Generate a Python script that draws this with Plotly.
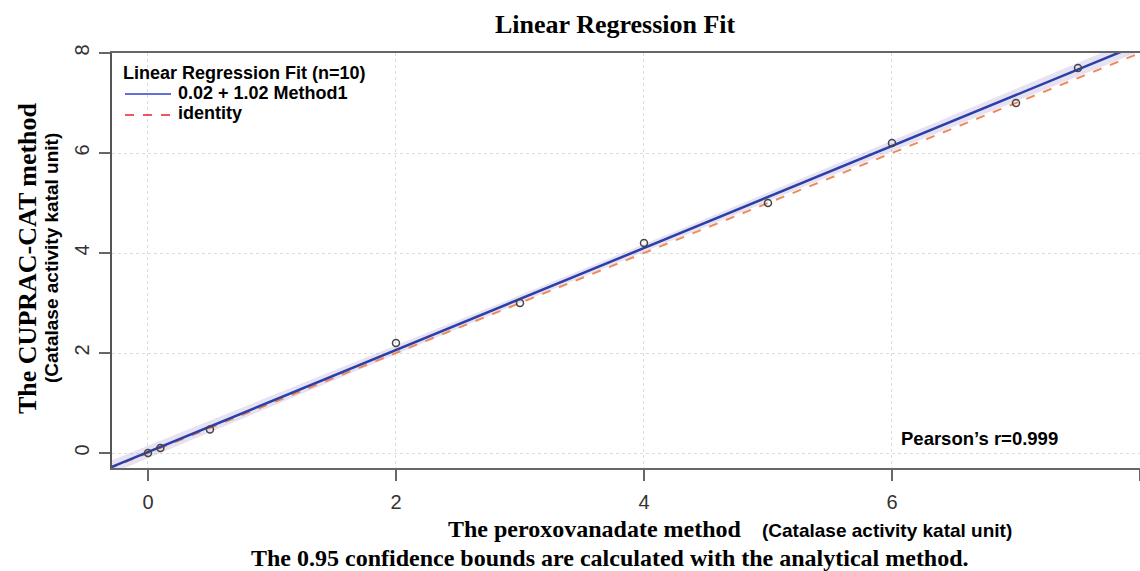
import numpy as np
import plotly.graph_objects as go

# ---- data ----
method1 = [0, 0.1, 0.5, 2, 3, 4, 5, 6, 7, 7.5]          # peroxovanadate
cuprac = [0, 0.1, 0.47, 2.2, 3.0, 4.2, 5.0, 6.2, 7.0, 7.7]  # CUPRAC-CAT
intercept = 0.02
slope = 1.02
x_ticks = [0, 2, 4, 6, 8]
y_ticks = [0, 2, 4, 6, 8]
x_range = [-0.29, 8.0]
y_range = [-0.3, 8.0]
legend_title = "Linear Regression Fit (n=10)"
legend_labels = ["0.02 + 1.02 Method1", "identity"]

x = np.array(method1)
y = np.array(cuprac)
n = len(x)

# regression line and analytical 95% confidence band
xg = np.linspace(x_range[0] - 0.3, x_range[1] + 0.3, 200)
yfit = intercept + slope * xg
resid = y - (intercept + slope * x)
s = np.sqrt(np.sum(resid ** 2) / (n - 2))
sxx = np.sum((x - x.mean()) ** 2)
tval = 2.306
half = tval * s * np.sqrt(1.0 / n + (xg - x.mean()) ** 2 / sxx)
half = np.maximum(half, 0.06)

fig = go.Figure()

fig.add_trace(go.Scatter(x=np.concatenate([xg, xg[::-1]]),
                         y=np.concatenate([yfit + half, (yfit - half)[::-1]]),
                         fill="toself", fillcolor="rgba(170,150,210,0.28)",
                         line=dict(width=0), hoverinfo="skip", showlegend=False))

fig.add_trace(go.Scatter(x=xg, y=xg, mode="lines",
                         line=dict(color="#f08a5a", width=2, dash="dash"),
                         showlegend=False))

fig.add_trace(go.Scatter(x=xg, y=yfit, mode="lines",
                         line=dict(color="#2b3fa8", width=2.5),
                         showlegend=False))

fig.add_trace(go.Scatter(x=method1, y=cuprac, mode="markers",
                         marker=dict(symbol="circle-open", size=7,
                                     color="#444", line=dict(width=1.5)),
                         showlegend=False, cliponaxis=False))

L, R, T, B = 112, 1140, 53, 468
W, H = R - L, B - T


def px(xp):
    return (xp - L) / W


def py(yp):
    return (B - yp) / H


serif = "Liberation Serif"
sans = "Liberation Sans"

ann = [
    dict(text="Linear Regression Fit", x=px(615), y=py(25), xanchor="center",
         yanchor="middle", font=dict(family=serif, size=26, color="black", weight="bold")),
    dict(text="The peroxovanadate method", x=px(446), y=py(529), xanchor="left",
         yanchor="middle", font=dict(family=serif, size=24, color="black", weight="bold")),
    dict(text="(Catalase activity katal unit)", x=px(760), y=py(530), xanchor="left",
         yanchor="middle", font=dict(family=sans, size=19, color="black", weight="bold")),
    dict(text="The 0.95 confidence bounds are calculated with the analytical method.",
         x=px(610), y=py(558), xanchor="center", yanchor="middle",
         font=dict(family=serif, size=24, color="black", weight="bold")),
    dict(text="The CUPRAC-CAT method", x=px(27), y=py(258), xanchor="center",
         yanchor="middle", textangle=-90,
         font=dict(family=serif, size=26, color="black", weight="bold")),
    dict(text="(Catalase activity katal unit)", x=px(51), y=py(258), xanchor="center",
         yanchor="middle", textangle=-90,
         font=dict(family=sans, size=19, color="black", weight="bold")),
    dict(text="Pearson\u2019s r=0.999", x=px(899), y=py(438), xanchor="left",
         yanchor="middle", font=dict(family=sans, size=18.5, color="black", weight="bold")),
    dict(text=legend_title, x=px(121), y=py(73), xanchor="left", yanchor="middle",
         font=dict(family=sans, size=18, color="black", weight="bold")),
    dict(text=legend_labels[0], x=px(176), y=py(93), xanchor="left", yanchor="middle",
         font=dict(family=sans, size=18, color="black", weight="bold")),
    dict(text=legend_labels[1], x=px(176), y=py(113), xanchor="left", yanchor="middle",
         font=dict(family=sans, size=18, color="black", weight="bold")),
]
for a in ann:
    a.update(xref="paper", yref="paper", showarrow=False)

shapes = [
    dict(type="line", xref="paper", yref="paper", x0=px(125), x1=px(171),
         y0=py(94), y1=py(94), line=dict(color="#2b3fd0", width=1.5)),
    dict(type="line", xref="paper", yref="paper", x0=px(125), x1=px(171),
         y0=py(115), y1=py(115), line=dict(color="#e8202a", width=1.5, dash="dash")),
]

fig.update_layout(
    width=1140, height=571,
    margin=dict(l=L, r=1140 - R, t=T, b=571 - B),
    paper_bgcolor="white", plot_bgcolor="white",
    annotations=ann, shapes=shapes,
    showlegend=False,
    xaxis=dict(range=x_range, tickvals=x_ticks, ticktext=[str(v) for v in x_ticks],
               showgrid=True, gridcolor="#dcdcdc", griddash="dot", gridwidth=1,
               zeroline=False, showline=True, linecolor="#666", linewidth=1.5,
               mirror=True, ticks="outside", ticklen=11, tickcolor="#666",
               tickwidth=1.5, ticklabelstandoff=4,
               tickfont=dict(family=sans, size=20, color="#333")),
    yaxis=dict(range=y_range, tickvals=y_ticks, ticktext=[str(v) for v in y_ticks],
               showgrid=True, gridcolor="#dcdcdc", griddash="dot", gridwidth=1,
               zeroline=False, showline=True, linecolor="#555", linewidth=1.5,
               ticks="outside", ticklen=11, tickcolor="#666", tickwidth=1.5,
               tickangle=-90, ticklabelstandoff=2,
               tickfont=dict(family=sans, size=20, color="#333")),
)

fig.write_html("out.html")
